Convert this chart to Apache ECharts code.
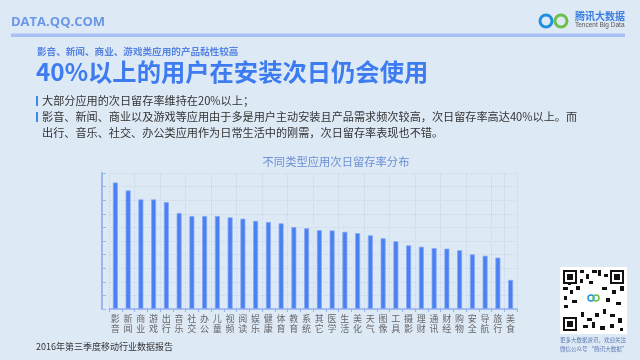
<!DOCTYPE html>
<html>
<head>
<meta charset="utf-8">
<script src="https://cdn.jsdelivr.net/npm/echarts@6/dist/echarts.min.js"></script>
<style>
  html, body { margin: 0; padding: 0; background: #dee9f6; }
  #main { width: 640px; height: 360px; }
</style>
</head>
<body>
<div id="main"></div>
<script>
// 应用类别（x轴）
const categories = ['影音', '新闻', '商业', '游戏', '出行', '音乐', '社交', '办公', '儿童', '视频',
  '阅读', '娱乐', '健康', '体育', '教育', '系统', '其它', '医学', '生活', '美化',
  '天气', '图像', '工具', '摄影', '理财', '通讯', '财经', '购物', '安全', '导航', '旅行', '美食'];
// 次日留存率 %
const retention = [46.5, 43.6, 40.3, 40.3, 39.3, 35.3, 34.2, 34.2, 34.2, 33.7,
  33.2, 32.4, 32.0, 31.5, 30.1, 29.7, 29.0, 28.9, 28.4, 27.9,
  27.1, 26.0, 24.9, 23.4, 22.9, 22.4, 22.2, 21.6, 20.1, 19.6, 18.9, 10.7];
const bullets = [
  '大部分应用的次日留存率维持在20%以上；',
  '影音、新闻、商业以及游戏等应用由于多是用户主动安装且产品需求频次较高，次日留存率高达40%以上。而',
  '出行、音乐、社交、办公类应用作为日常生活中的刚需，次日留存率表现也不错。'
];

const CJK = '"Noto Sans CJK SC", sans-serif';
const chart = echarts.init(document.getElementById('main'));

// 二维码的定位块
function finder(x, y) {
  return [
    { type: 'rect', shape: { x: x, y: y, width: 14, height: 14 }, style: { fill: '#111' } },
    { type: 'rect', shape: { x: x + 2, y: y + 2, width: 10, height: 10 }, style: { fill: '#fff' } },
    { type: 'rect', shape: { x: x + 4, y: y + 4, width: 6, height: 6 }, style: { fill: '#111' } }
  ];
}
const qrBlocks = [
  [580, 270, 4, 3], [586, 274, 3, 5], [592, 270, 5, 3], [580, 279, 3, 4], [589, 281, 4, 3],
  [563, 287, 5, 3], [570, 290, 3, 4], [576, 286, 4, 4], [602, 287, 5, 3], [612, 290, 4, 4],
  [620, 286, 4, 5], [564, 296, 3, 4], [572, 300, 5, 3], [606, 298, 4, 4], [616, 302, 5, 3],
  [564, 305, 4, 3], [581, 312, 3, 5], [587, 318, 5, 3], [595, 313, 4, 4], [603, 309, 3, 5],
  [610, 314, 5, 3], [618, 318, 4, 5], [583, 325, 5, 3], [592, 322, 3, 6], [600, 326, 5, 4],
  [610, 324, 4, 4], [620, 328, 3, 3], [598, 270, 3, 6], [604, 274, 4, 3], [568, 282, 3, 3]
];

chart.setOption({
  backgroundColor: '#dee9f6',
  animation: false,
  title: {
    text: '不同类型应用次日留存率分布',
    left: 331, top: 151, textAlign: 'center',
    textStyle: { fontFamily: CJK, fontSize: 11.3, fontWeight: 'normal', color: '#6b8fd3' }
  },
  grid: { left: 109, right: 123, top: 173, bottom: 51 },
  xAxis: {
    type: 'category',
    data: categories,
    axisLine: { lineStyle: { color: '#93b2ef', width: 1.5 } },
    axisTick: { show: true, length: 3, lineStyle: { color: '#93b2ef' } },
    axisLabel: {
      interval: 0, margin: 5, lineHeight: 10,
      fontFamily: CJK, fontSize: 9, color: '#666',
      formatter: v => v.split('').join('\n')
    },
    splitLine: { show: true, interval: 1, lineStyle: { color: '#c8d7ef', type: 'dotted' } }
  },
  yAxis: {
    type: 'value', min: 0, max: 50, interval: 5,
    offset: 7,
    axisLine: { show: true, lineStyle: { color: '#9ab7f0', width: 2 } },
    axisTick: { show: true, inside: true, length: 4, lineStyle: { color: '#9ab7f0' } },
    axisLabel: { show: false },
    splitLine: { lineStyle: { color: '#c8d7ef', type: 'dotted' } }
  },
  series: [{
    type: 'bar',
    data: retention,
    barWidth: 5,
    itemStyle: { color: '#4a80f2', borderColor: '#88aaf5', borderWidth: 0.8 }
  }],
  graphic: [
    { type: 'text', style: { text: 'DATA.QQ.COM', x: 11, y: 22.5, verticalAlign: 'middle',
      font: 'bold 13px "Open Sans", sans-serif', fill: '#6b97e7' } },
    { type: 'rect', shape: { x: 11, y: 33.5, width: 614, height: 3.5 }, style: { fill: '#a9c1f7' } },
    { type: 'text', style: { text: '影音、新闻、商业、游戏类应用的产品黏性较高', x: 37, y: 51, verticalAlign: 'middle',
      font: 'bold 9.6px ' + CJK, fill: '#5684e2' } },
    { type: 'text', style: { text: '40%以上的用户在安装次日仍会使用', x: 36, y: 72, verticalAlign: 'middle',
      font: 'bold 24.3px ' + CJK, fill: '#3c7bf0' } },
    { type: 'rect', shape: { x: 36, y: 96, width: 2, height: 10 }, style: { fill: '#3d8be8' } },
    { type: 'rect', shape: { x: 36, y: 112, width: 2, height: 10 }, style: { fill: '#3d8be8' } },
    { type: 'text', style: { text: bullets[0], x: 42, y: 101, verticalAlign: 'middle',
      font: '11.15px ' + CJK, fill: '#333' } },
    { type: 'text', style: { text: bullets[1], x: 42, y: 117, verticalAlign: 'middle',
      font: '11.15px ' + CJK, fill: '#333' } },
    { type: 'text', style: { text: bullets[2], x: 42, y: 132.5, verticalAlign: 'middle',
      font: '11.15px ' + CJK, fill: '#333' } },
    // 腾讯大数据 logo
    { type: 'circle', shape: { cx: 546, cy: 21, r: 6 }, style: { fill: 'none', stroke: '#1f8fe0', lineWidth: 3 } },
    { type: 'circle', shape: { cx: 561, cy: 21, r: 6 }, style: { fill: 'none', stroke: '#6cc04a', lineWidth: 3 } },
    { type: 'text', style: { text: '腾讯大数据', x: 575, y: 16, verticalAlign: 'middle',
      font: 'bold 10px ' + CJK, fill: '#3a7de0' } },
    { type: 'text', style: { text: 'Tencent Big Data', x: 575, y: 25.5, verticalAlign: 'middle',
      font: '6.5px "Liberation Sans", sans-serif', fill: '#555' } },
    // 二维码
    { type: 'rect', shape: { x: 560, y: 267, width: 67, height: 67 }, style: { fill: '#fff' } },
    ...finder(563, 270), ...finder(610, 270), ...finder(563, 317),
    ...qrBlocks.map(b => ({ type: 'rect', shape: { x: b[0], y: b[1], width: b[2], height: b[3] }, style: { fill: '#111' } })),
    { type: 'rect', shape: { x: 585, y: 292, width: 17, height: 17 }, style: { fill: '#fff' } },
    { type: 'circle', shape: { cx: 591, cy: 298, r: 3 }, style: { fill: 'none', stroke: '#1f8fe0', lineWidth: 1.5 } },
    { type: 'circle', shape: { cx: 596, cy: 298, r: 3 }, style: { fill: 'none', stroke: '#6cc04a', lineWidth: 1.5 } },
    { type: 'text', style: { text: '更多大数据资讯，欢迎关注', x: 560, y: 340, verticalAlign: 'middle',
      font: '5.5px ' + CJK, fill: '#5a78b0' } },
    { type: 'text', style: { text: '微信公众号 “腾讯大数据”', x: 560, y: 349, verticalAlign: 'middle',
      font: '5.5px ' + CJK, fill: '#5a78b0' } },
    { type: 'text', style: { text: '2016年第三季度移动行业数据报告', x: 36, y: 347, verticalAlign: 'middle',
      font: '9px ' + CJK, fill: '#333' } }
  ]
});
</script>
</body>
</html>
